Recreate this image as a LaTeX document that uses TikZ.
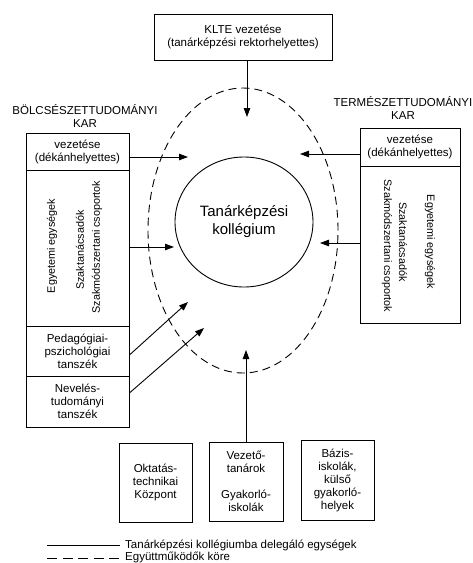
\documentclass[tikz,border=0pt]{standalone}
\usepackage{fontspec}
\setmainfont{Liberation Sans}
\usetikzlibrary{shapes.geometric,arrows.meta}
\begin{document}
\begin{tikzpicture}[x=1pt,y=-1pt,
  box/.style={draw, line width=0.9pt, inner sep=2pt, align=center, font=\fontsize{11.5}{13}\selectfont},
  txt/.style={align=center, inner sep=0pt, font=\fontsize{11.5}{13}\selectfont},
  vtxt/.style={inner sep=0pt, font=\fontsize{10.8}{13}\selectfont},
  arr/.style={line width=0.9pt, -{Triangle[length=9pt,width=6.5pt]}},
  dsh/.style={line width=0.9pt, dash pattern=on 8pt off 5pt},
]
\useasboundingbox (0,0) rectangle (473,563);

% top box
\node[box, minimum width=178pt, minimum height=46pt] (klte) at (243,37) {KLTE vezetése\\(tanárképzési rektorhelyettes)};

% ellipses
\node[draw, dsh, ellipse, minimum width=190pt, minimum height=285pt] (eg) at (243,230.5) {};
\node[draw, ellipse, line width=0.9pt, minimum width=138pt, minimum height=130pt, align=center, font=\fontsize{15}{18}\selectfont] (tk) at (244,222) {Tanárképzési\\kollégium};

% left faculty
\node[txt] (btitle) at (85,116) {BÖLCSÉSZETTUDOMÁNYI\\KAR};
\node[box, minimum width=103pt, minimum height=37pt] (lv) at (77.5,151.5) {vezetése\\(dékánhelyettes)};
\node[box, minimum width=103pt, minimum height=156pt] (lm) at (77.5,248) {};
\node[box, minimum width=103pt, minimum height=50pt] (lp) at (77.5,351) {Pedagógiai-\\pszichológiai\\tanszék};
\node[box, minimum width=103pt, minimum height=51pt] (ln) at (77.5,401.5) {Nevelés-\\tudományi\\tanszék};
\node[vtxt, rotate=90] (le1) at (52,246) {Egyetemi egységek};
\node[vtxt, rotate=90] (le2) at (80,250) {Szaktanácsadók};
\node[vtxt, rotate=90] (le3) at (97,247) {Szakmódszertani csoportok};

% right faculty
\node[txt] (ttitle) at (403,108.5) {TERMÉSZETTUDOMÁNYI\\KAR};
\node[box, minimum width=100pt, minimum height=38pt] (rv) at (410,147) {vezetése\\(dékánhelyettes)};
\node[box, minimum width=100pt, minimum height=157pt] (rm) at (410,244.5) {};
\node[vtxt, rotate=-90] (re1) at (430,242) {Egyetemi egységek};
\node[vtxt, rotate=-90] (re2) at (403,242) {Szaktanácsadók};
\node[vtxt, rotate=-90] (re3) at (387,246) {Szakmódszertani csoportok};

% bottom boxes
\node[box, minimum width=73pt, minimum height=79pt] (ok) at (155.5,482.5) {Oktatás-\\technikai\\Központ};
\node[box, minimum width=74pt, minimum height=79pt] (vt) at (246,481.5) {Vezető-\\tanárok\\[13pt]Gyakorló-\\iskolák};
\node[box, minimum width=73pt, minimum height=80pt] (bz) at (337.5,480) {Bázis-\\iskolák,\\külső\\gyakorló-\\helyek};

% arrow tips
\coordinate (tk1) at (247,117);
\coordinate (tlv) at (188,157);
\coordinate (tlm) at (174,247);
\coordinate (tlp) at (188,302);
\coordinate (tln) at (204,328);
\coordinate (trv) at (300,154);
\coordinate (trm) at (320,243);
\coordinate (tvt) at (246,350);

\draw[arr] ([xshift=4pt]klte.south) -- (tk1);
\draw[arr] (lv.east |- tlv) -- (tlv);
\draw[arr] (lm.east |- tlm) -- (tlm);
\draw[arr] ([yshift=-4pt]lp.east) -- (tlp);
\draw[arr] ([yshift=8.5pt]ln.east) -- (tln);
\draw[arr] (rv.west |- trv) -- (trv);
\draw[arr] (rm.west |- trm) -- (trm);
\draw[arr] (vt.north) -- (tvt);

% legend
\coordinate (la1) at (47,545);
\coordinate (lb1) at (120,545);
\coordinate (la2) at (47,558);
\coordinate (lb2) at (120,558);
\draw[line width=0.9pt] (la1) -- (lb1);
\draw[line width=0.9pt, dash pattern=on 10pt off 5.5pt] (la2) -- (lb2);
\node[txt, anchor=west] (lt1) at (125,545) {Tanárképzési kollégiumba delegáló egységek};
\node[txt, anchor=west] (lt2) at (125,557.5) {Együttműködők köre};
\end{tikzpicture}
\end{document}
